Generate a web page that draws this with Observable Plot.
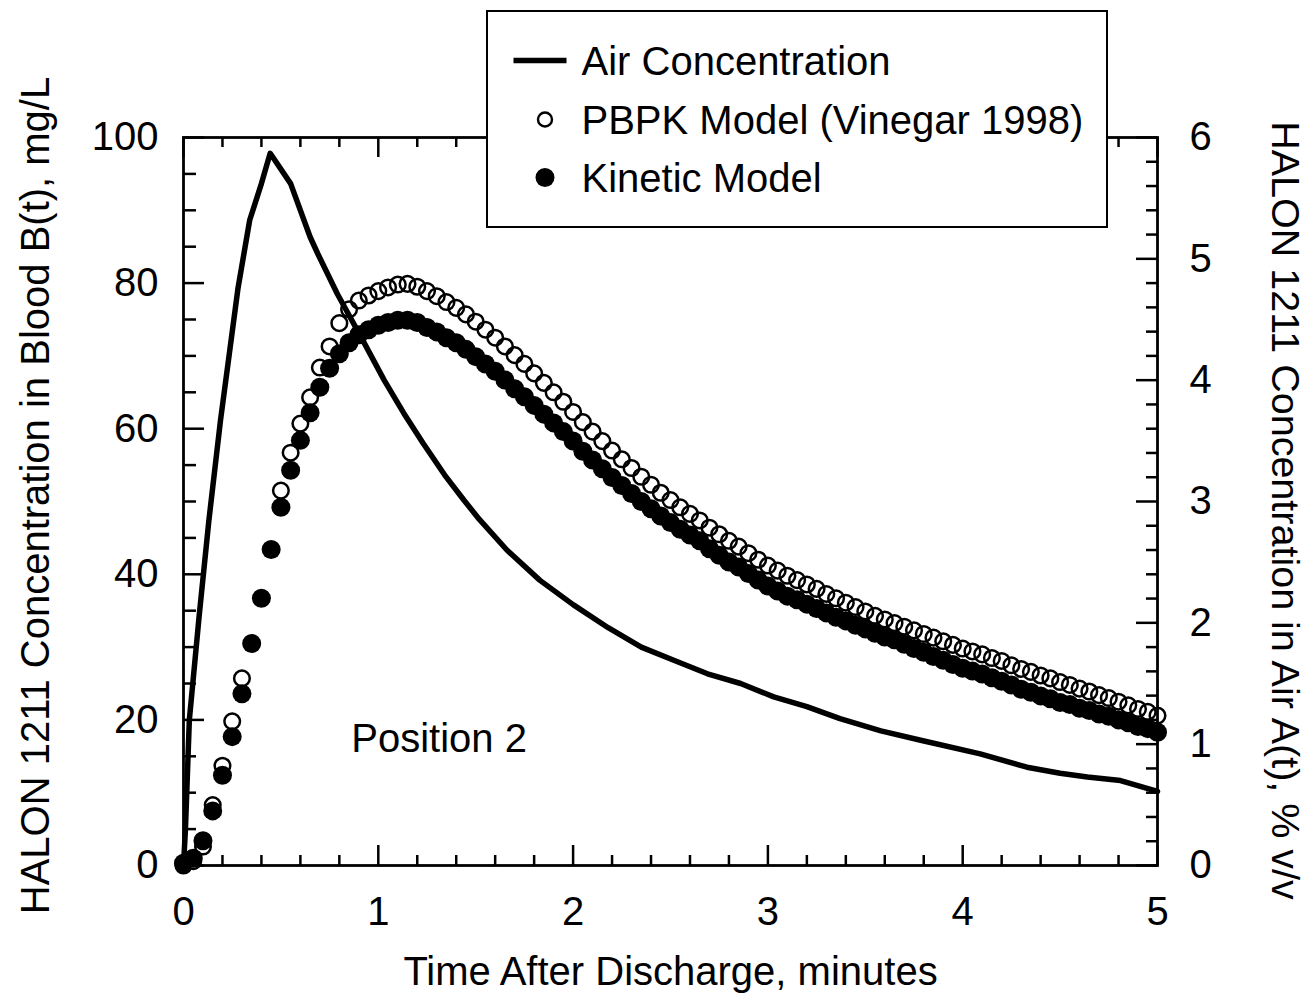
<!DOCTYPE html>
<html>
<head>
<meta charset="utf-8">
<script src="https://cdn.jsdelivr.net/npm/d3@7"></script>
<script src="https://cdn.jsdelivr.net/npm/@observablehq/plot@0.6"></script>
<style>
  body { margin: 0; background: #fff; }
  #wrap { position: relative; width: 1306px; height: 995px; }
  #legend { position: absolute; left: 486px; top: 10px; width: 618px; height: 214px;
            border: 2.5px solid #000; background: #fff; }
  text { font-family: "Liberation Sans", Arial, Helvetica, sans-serif; }
</style>
</head>
<body>
<div id="wrap"><div id="chart"></div><div id="legend"></div></div>
<script>
// ---------------- data ----------------
const sampleTimes = [0,0.05,0.1,0.15,0.2,0.25,0.3,0.35,0.4,0.45,0.5,0.55,0.6,0.65,0.7,0.75,0.8,0.85,0.9,0.95,
  1,1.05,1.1,1.15,1.2,1.25,1.3,1.35,1.4,1.45,1.5,1.55,1.6,1.65,1.7,1.75,1.8,1.85,1.9,1.95,
  2,2.05,2.1,2.15,2.2,2.25,2.3,2.35,2.4,2.45,2.5,2.55,2.6,2.65,2.7,2.75,2.8,2.85,2.9,2.95,
  3,3.05,3.1,3.15,3.2,3.25,3.3,3.35,3.4,3.45,3.5,3.55,3.6,3.65,3.7,3.75,3.8,3.85,3.9,3.95,
  4,4.05,4.1,4.15,4.2,4.25,4.3,4.35,4.4,4.45,4.5,4.55,4.6,4.65,4.7,4.75,4.8,4.85,4.9,4.95,5];

// PBPK Model (Vinegar 1998), blood mg/L (open circles); null = not visible in the reference
const pbpkBlood = [0,0.6,2.6,8.3,13.7,19.8,25.7,null,null,null,
  51.5,56.7,60.7,64.3,68.4,71.3,74.5,76.4,77.6,78.3,
  78.9,79.4,79.8,79.9,79.5,78.9,78.2,77.4,76.6,75.7,
  74.7,73.6,72.5,71.3,70.1,68.9,67.6,66.3,65.0,63.7,
  62.3,60.9,59.6,58.3,57.0,55.8,54.6,53.4,52.3,51.2,
  50.2,49.2,48.3,47.4,46.4,45.5,44.6,43.8,42.9,42.0,
  41.2,40.5,39.8,39.2,38.6,38.0,37.3,36.7,36.1,35.5,
  34.9,34.3,33.8,33.3,32.8,32.3,31.8,31.3,30.8,30.3,
  29.8,29.4,29.0,28.5,28.1,27.5,27.0,26.6,26.1,25.7,
  25.2,24.8,24.3,23.9,23.4,23.0,22.5,22.0,21.5,21.1,20.6];

// Kinetic Model, blood mg/L (filled circles)
const kineticBlood = [0.3,1.0,3.4,7.5,12.4,17.7,23.6,30.5,36.7,43.4,
  49.2,54.3,58.4,62.2,65.7,68.3,70.3,71.8,72.9,73.6,
  74.2,74.6,74.9,74.9,74.6,73.9,73.3,72.5,71.8,70.9,
  69.9,68.9,67.9,66.7,65.5,64.4,63.2,62.0,60.8,59.6,
  58.3,56.9,55.7,54.5,53.3,52.2,51.1,50.0,49.0,48.0,
  47.1,46.2,45.4,44.6,43.5,42.6,41.7,41.0,40.1,39.2,
  38.4,37.7,37.0,36.5,35.9,35.3,34.7,34.1,33.6,33.0,
  32.5,31.9,31.4,31.0,30.4,29.8,29.3,28.7,28.2,27.6,
  27.1,26.7,26.3,25.8,25.3,24.8,24.2,23.8,23.3,22.9,
  22.4,22.1,21.6,21.3,20.8,20.5,20.0,19.6,19.1,18.8,18.3];

// Air concentration, % v/v (solid line, right axis)
const airTime = [0,0.01,0.03,0.08,0.13,0.19,0.28,0.34,0.40,0.445,0.55,0.65,0.69,0.79,0.92,1.03,1.13,1.23,1.34,1.44,
  1.52,1.66,1.83,2.0,2.18,2.35,2.52,2.69,2.86,3.03,3.2,3.37,3.58,3.79,4.09,4.33,4.5,4.64,4.81,5.0];
const airConc = [0,0.3,1.2,2.05,2.84,3.67,4.76,5.32,5.62,5.87,5.62,5.18,5.04,4.71,4.33,4.0,3.73,3.48,3.22,3.01,
  2.85,2.6,2.35,2.15,1.96,1.8,1.69,1.58,1.5,1.39,1.31,1.21,1.11,1.03,0.92,0.81,0.76,0.73,0.7,0.61];

const xTickValues = [0,1,2,3,4,5];
const leftTickValues = [0,20,40,60,80,100];
const rightTickValues = [0,1,2,3,4,5,6];
const xMinorTicks = [0.2,0.4,0.6,0.8,1.2,1.4,1.6,1.8,2.2,2.4,2.6,2.8,3.2,3.4,3.6,3.8,4.2,4.4,4.6,4.8];
const leftMinorTicks = [5,10,15,25,30,35,45,50,55,65,70,75,85,90,95];
const rightMinorTicks = [0.2,0.4,0.6,0.8,1.2,1.4,1.6,1.8,2.2,2.4,2.6,2.8,3.2,3.4,3.6,3.8,4.2,4.4,4.6,4.8,5.2,5.4,5.6,5.8];

const xTitle = "Time After Discharge, minutes";
const leftTitle = "HALON 1211 Concentration in Blood B(t), mg/L";
const rightTitle = "HALON 1211 Concentration in Air A(t), % v/v";
const annotationText = "Position 2";
const annotationAt = {t: 1.312, b: 17.4};
const legendLabels = ["Air Concentration", "PBPK Model (Vinegar 1998)", "Kinetic Model"];

// ---------------- chart ----------------
const W = 1306, H = 995, mL = 183, mR = 149, mT = 137, mB = 130;
const frameW = W - mL - mR, frameH = H - mT - mB;
const airToBlood = 100 / 6; // right axis maps 0..6 onto 0..100
const FS = 40;

const bloodRows = sampleTimes.map((t, i) => ({t, pbpk: pbpkBlood[i], kin: kineticBlood[i]}));
const airRows = airTime.map((t, i) => ({t, a: airConc[i]}));

const tickStyle = {stroke: "#000", strokeWidth: 2.5};

const chart = Plot.plot({
  width: W, height: H,
  marginLeft: mL, marginRight: mR, marginTop: mT, marginBottom: mB,
  x: {domain: [0, 5]},
  y: {domain: [0, 100]},
  style: {fontFamily: '"Liberation Sans", Arial, Helvetica, sans-serif', fontSize: FS + "px", color: "#000", background: "#fff", overflow: "visible"},
  marks: [
    // data
    Plot.dot(bloodRows, {x: "t", y: "pbpk", r: 7.8, fill: "none", stroke: "#000", strokeWidth: 2.5}),
    Plot.dot(bloodRows, {x: "t", y: "kin", r: 9.5, fill: "#000", stroke: "none"}),
    Plot.line(airRows, {x: "t", y: d => d.a * airToBlood, stroke: "#000", strokeWidth: 5.5, strokeLinejoin: "round"}),
    // frame
    Plot.frame({stroke: "#000", strokeWidth: 2.8}),
    // inward ticks: bottom & top
    Plot.tickX(xTickValues, {...tickStyle, insetTop: frameH - 20}),
    Plot.tickX(xMinorTicks, {...tickStyle, insetTop: frameH - 10}),
    Plot.tickX(xTickValues, {...tickStyle, insetBottom: frameH - 20}),
    Plot.tickX(xMinorTicks, {...tickStyle, insetBottom: frameH - 10}),
    // left ticks
    Plot.tickY(leftTickValues, {...tickStyle, insetRight: frameW - 21}),
    Plot.tickY(leftMinorTicks, {...tickStyle, insetRight: frameW - 13}),
    // right ticks (air scale)
    Plot.tickY(rightTickValues, {...tickStyle, y: d => d * airToBlood, insetLeft: frameW - 21}),
    Plot.tickY(rightMinorTicks, {...tickStyle, y: d => d * airToBlood, insetLeft: frameW - 11}),
    // tick labels
    Plot.axisX({anchor: "bottom", ticks: xTickValues, tickSize: 0, tickPadding: 31, tickFormat: d => String(d), label: null, fontSize: FS}),
    Plot.axisY({anchor: "left", ticks: leftTickValues, tickSize: 0, tickPadding: 25, tickFormat: d => String(d), label: null, fontSize: FS}),
    Plot.axisY({anchor: "right", ticks: rightTickValues.map(v => v * airToBlood), tickSize: 0, tickPadding: 32,
      tickFormat: (d, i) => String(rightTickValues[i]), label: null, fontSize: FS}),
    // axis titles
    Plot.text([xTitle], {frameAnchor: "bottom", dy: 107, textAnchor: "middle", lineAnchor: "middle", fontSize: FS, fill: "#000"}),
    Plot.text([leftTitle], {frameAnchor: "left", dx: -147, dy: -6, rotate: -90, textAnchor: "middle", lineAnchor: "middle", fontSize: FS, fill: "#000"}),
    Plot.text([rightTitle], {frameAnchor: "right", dx: 127, dy: 9, rotate: 90, textAnchor: "middle", lineAnchor: "middle", fontSize: FS - 0.5, fill: "#000"}),
    // annotation
    Plot.text([annotationText], {x: () => annotationAt.t, y: () => annotationAt.b, fontSize: FS, fill: "#000"})
  ]
});
document.getElementById("chart").appendChild(chart);

// ---------------- legend (boxed, overlapping the top of the frame) ----------------
const lg = d3.select("#legend").append("svg").attr("width", 618).attr("height", 214);
const rowY = [48.5, 107.5, 165.5];
lg.append("line").attr("x1", 25.5).attr("x2", 78.5).attr("y1", rowY[0]).attr("y2", rowY[0])
  .attr("stroke", "#000").attr("stroke-width", 5.5);
lg.append("circle").attr("cx", 57).attr("cy", rowY[1]).attr("r", 7)
  .attr("fill", "none").attr("stroke", "#000").attr("stroke-width", 2.4);
lg.append("circle").attr("cx", 57).attr("cy", rowY[2]).attr("r", 9.5).attr("fill", "#000");
lg.selectAll("text.lab").data(legendLabels).join("text").attr("class", "lab")
  .attr("x", 93.5).attr("y", (d, i) => rowY[i]).attr("dy", "0.35em")
  .attr("font-size", FS).attr("fill", "#000").text(d => d);
</script>
</body>
</html>
